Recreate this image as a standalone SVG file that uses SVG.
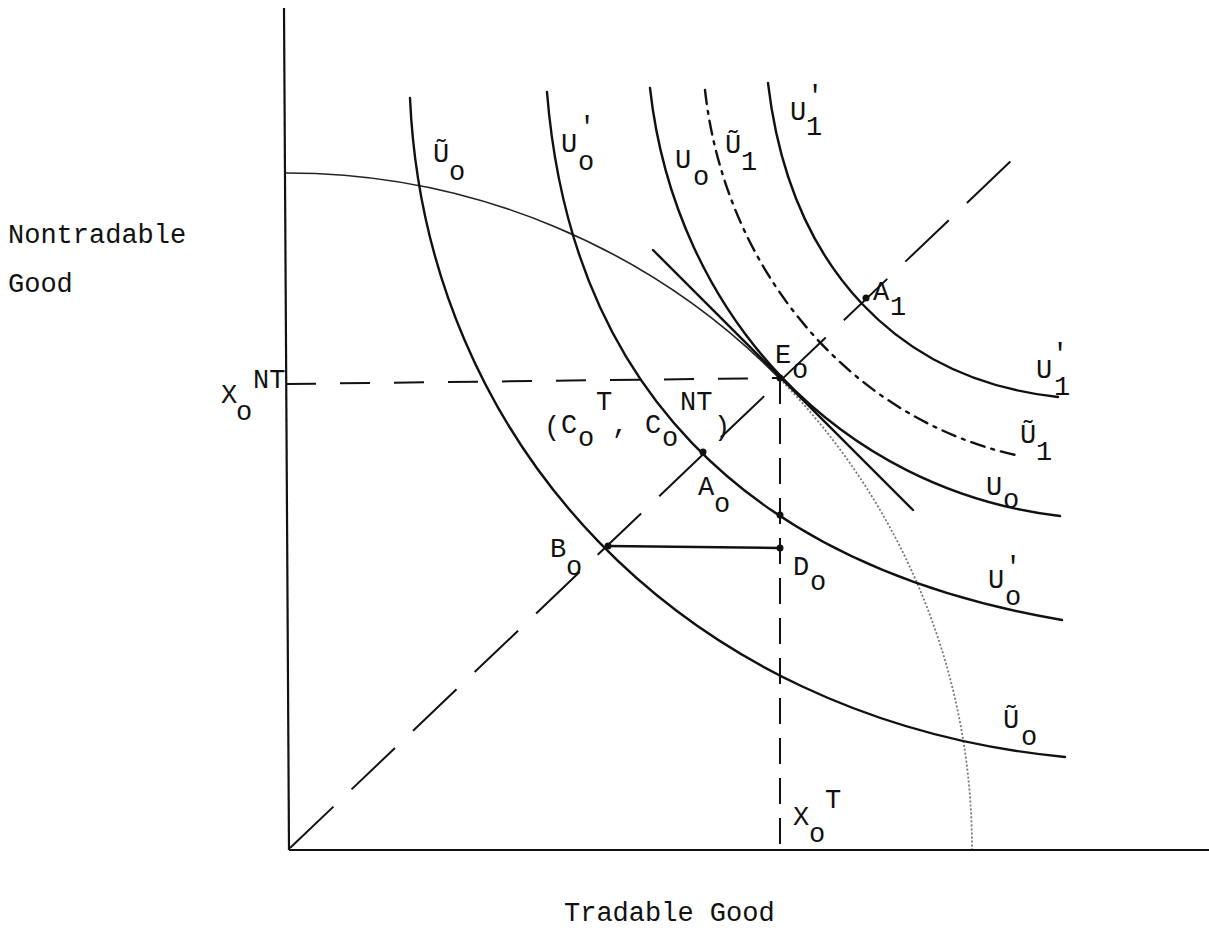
<svg xmlns="http://www.w3.org/2000/svg" width="1209" height="936" viewBox="0 0 1209 936">
<style>
.t{font-family:"Liberation Mono","DejaVu Sans Mono",monospace;font-size:27px;fill:#111}
.ic{fill:none;stroke:#111;stroke-width:2.4;stroke-linecap:round}
.ax{fill:none;stroke:#111;stroke-width:2.2}
.dh{fill:none;stroke:#111;stroke-width:2}
.dot{fill:#111}
</style>
<rect width="1209" height="936" fill="#fff"/>
<g id="axes">
<line class="ax" x1="284" y1="8" x2="289" y2="850"/>
<line class="ax" x1="289" y1="850" x2="1209" y2="850"/>
</g>
<g id="connectors">
<path id="ppf-solid" d="M286,173 A686,676 0 0 1 780,379" fill="none" stroke="#222" stroke-width="1.6"/>
<path id="ppf-dotted" d="M780,379 A686,676 0 0 1 972,849" fill="none" stroke="#777" stroke-width="1.8" stroke-dasharray="2 2"/>
<line id="budget" class="ic" x1="653" y1="250" x2="913" y2="510"/>
<line id="ray" class="dh" x1="290" y1="848" x2="1012" y2="160" stroke-dasharray="60 25"/>
<line id="hdash" class="dh" x1="286" y1="384" x2="780" y2="378" stroke-dasharray="30 24"/>
<line id="vdash" class="dh" x1="780" y1="378" x2="780" y2="850" stroke-dasharray="26 14"/>
<line id="BD" class="ic" x1="608" y1="546" x2="780" y2="548"/>
</g>
<g id="curve-Utilde0"><path class="ic" d="M410,98 C425,440 680,720 1065,757"/></g>
<g id="curve-Uprime0"><path class="ic" d="M547,92 C570,380 740,565 1062,620"/></g>
<g id="curve-U0"><path class="ic" d="M650,88 C675,315 840,490 1060,516"/></g>
<g id="curve-Utilde1"><path class="ic" d="M705,90 C725,270 850,420 1020,456" stroke-width="1.8" stroke-dasharray="14 7 3 7"/></g>
<g id="curve-Uprime1"><path class="ic" d="M768,83 C790,270 900,380 1058,397"/></g>
<g id="points">
<circle class="dot" cx="866" cy="298" r="3.5"/>
<circle class="dot" cx="780" cy="378" r="3.5"/>
<circle class="dot" cx="703" cy="452" r="3.5"/>
<circle class="dot" cx="780" cy="515" r="3.5"/>
<circle class="dot" cx="780" cy="548" r="3.5"/>
<circle class="dot" cx="608" cy="546" r="3.5"/>
</g>
<g id="axis-labels">
<text class="t" x="8" y="243">Nontradable</text>
<text class="t" x="8" y="292">Good</text>
<text class="t" x="564" y="921">Tradable Good</text>
<text class="t" x="221" y="403">X</text><text class="t" x="236" y="420">o</text><text class="t" x="253" y="388">NT</text>
<text class="t" x="793" y="825">X</text><text class="t" x="809" y="842">o</text><text class="t" x="825" y="808">T</text>
</g>
<g id="top-labels">
<text class="t" x="433" y="162">Ũ</text><text class="t" x="449" y="180">o</text>
<text class="t" x="561" y="152">U</text><text class="t" x="579" y="135">'</text><text class="t" x="578" y="170">o</text>
<text class="t" x="675" y="168">U</text><text class="t" x="693" y="185">o</text>
<text class="t" x="725" y="153">Ũ</text><text class="t" x="741" y="170">1</text>
<text class="t" x="790" y="120">U</text><text class="t" x="807" y="104">'</text><text class="t" x="806" y="135">1</text>
</g>
<g id="right-labels">
<text class="t" x="1036" y="378">U</text><text class="t" x="1052" y="362">'</text><text class="t" x="1054" y="395">1</text>
<text class="t" x="1020" y="443">Ũ</text><text class="t" x="1036" y="460">1</text>
<text class="t" x="986" y="495">U</text><text class="t" x="1003" y="508">o</text>
<text class="t" x="988" y="588">U</text><text class="t" x="1005" y="575">'</text><text class="t" x="1005" y="605">o</text>
<text class="t" x="1003" y="728">Ũ</text><text class="t" x="1021" y="745">o</text>
</g>
<g id="point-labels">
<text class="t" x="775" y="363">E</text><text class="t" x="792" y="378">o</text>
<text class="t" x="873" y="300">A</text><text class="t" x="890" y="315">1</text>
<text class="t" x="544" y="435">(</text><text class="t" x="561" y="433">C</text><text class="t" x="578" y="446">o</text><text class="t" x="596" y="410">T</text><text class="t" x="612" y="433">,</text>
<text class="t" x="645" y="433">C</text><text class="t" x="662" y="446">o</text><text class="t" x="680" y="410">NT</text><text class="t" x="714" y="435">)</text>
<text class="t" x="698" y="495">A</text><text class="t" x="714" y="512">o</text>
<text class="t" x="550" y="557">B</text><text class="t" x="566" y="575">o</text>
<text class="t" x="793" y="575">D</text><text class="t" x="810" y="590">o</text>
</g>
</svg>
